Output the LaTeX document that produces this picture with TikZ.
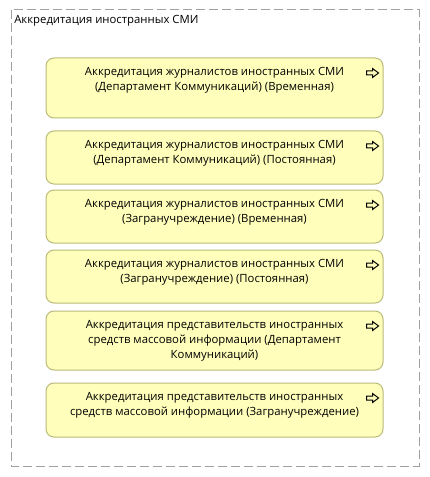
\documentclass[tikz,border=0pt]{standalone}
\usepackage{fontspec}
\setmainfont{Open Sans}
\usepackage[]{xcolor}
\usepackage{tikz}
\usetikzlibrary{calc}

\definecolor{procfill}{RGB}{255,255,187}
\definecolor{procline}{RGB}{186,186,122}
\definecolor{framegray}{RGB}{160,160,160}

\begin{document}
\begin{tikzpicture}[x=0.75pt,y=-0.75pt]
\tikzstyle{proc}=[draw=procline,fill=procfill,line width=0.75pt,rounded corners=6pt,minimum width=252.75pt,inner sep=0pt]
\tikzstyle{proctext}=[anchor=north,align=center,inner sep=0pt,font=\fontsize{8.5}{11.25}\selectfont,text=black]
\tikzstyle{frame}=[dashed,dash pattern=on 6.75pt off 3pt,line width=0.75pt,framegray]
\tikzstyle{flow}=[draw=black,line width=0.75pt,line join=miter]

\def\flowicon#1{\draw[flow] ($(#1.north east)+(-17,13.5)$) -- ++(6,0) -- ++(0,-2.5) -- ++(6,4.5) -- ++(-6,4.5) -- ++(0,-2.5) -- ++(-6,0) -- cycle;}

\useasboundingbox[fill=white] (0,0) rectangle (429,477);

% group frame
\draw[frame] (11,10) rectangle (419,466);
\node[anchor=base west,inner sep=0pt,font=\fontsize{8.5}{11.25}\selectfont] (title) at (14,24) {Аккредитация иностранных СМИ};

% processes
\node[proc,minimum height=45pt] (pJT) at (214.5,88) {};
\node[proc,minimum height=39.75pt] (pJP) at (214.5,157.5) {};
\node[proc,minimum height=39.75pt] (pZT) at (214.5,216.5) {};
\node[proc,minimum height=39.75pt] (pZP) at (214.5,276.5) {};
\node[proc,minimum height=44.25pt] (pMD) at (214.5,340.5) {};
\node[proc,minimum height=40.5pt] (pMZ) at (214.5,410) {};

\node[proctext] (tJT) at ($(pJT.north)+(0,9.5)$) {Аккредитация журналистов иностранных СМИ\\(Департамент Коммуникаций) (Временная)};
\node[proctext] (tJP) at ($(pJP.north)+(0,9.5)$) {Аккредитация журналистов иностранных СМИ\\(Департамент Коммуникаций) (Постоянная)};
\node[proctext] (tZT) at ($(pZT.north)+(0,9.5)$) {Аккредитация журналистов иностранных СМИ\\(Загранучреждение) (Временная)};
\node[proctext] (tZP) at ($(pZP.north)+(0,9.5)$) {Аккредитация журналистов иностранных СМИ\\(Загранучреждение) (Постоянная)};
\node[proctext] (tMD) at ($(pMD.north)+(0,9.5)$) {Аккредитация представительств иностранных\\средств массовой информации (Департамент\\Коммуникаций)};
\node[proctext] (tMZ) at ($(pMZ.north)+(0,9.5)$) {Аккредитация представительств иностранных\\средств массовой информации (Загранучреждение)};

\flowicon{pJT}
\flowicon{pJP}
\flowicon{pZT}
\flowicon{pZP}
\flowicon{pMD}
\flowicon{pMZ}
\end{tikzpicture}
\end{document}
